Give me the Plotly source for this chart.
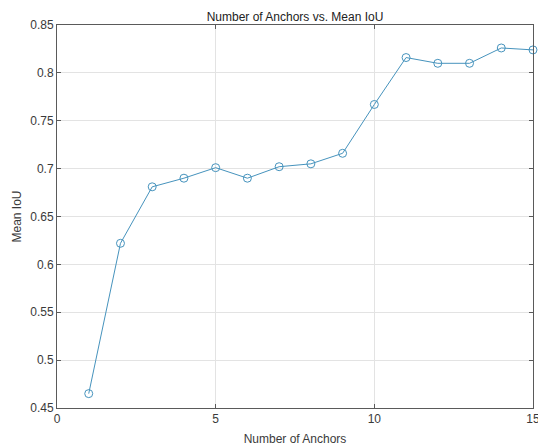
import plotly.graph_objects as go

anchors = list(range(1, 16))
mean_iou = [0.465, 0.622, 0.681, 0.690, 0.701, 0.690, 0.702, 0.705, 0.716,
            0.767, 0.816, 0.810, 0.810, 0.826, 0.824]

x_ticks = [0, 5, 10, 15]
y_ticks = [0.45, 0.5, 0.55, 0.6, 0.65, 0.7, 0.75, 0.8, 0.85]
y_ticklabels = ["0.45", "0.5", "0.55", "0.6", "0.65", "0.7", "0.75", "0.8", "0.85"]

line_color = "#4693bd"
axis_color = "#5a5a5a"
text_color = "#3a3a3a"

fig = go.Figure()
fig.add_trace(go.Scatter(
    x=anchors, y=mean_iou, mode="lines+markers",
    line=dict(color=line_color, width=1),
    marker=dict(symbol="circle-open", size=8, color=line_color, line=dict(width=1, color=line_color)),
    showlegend=False, cliponaxis=False,
))

font = dict(family="Liberation Sans, Arial, sans-serif", size=12, color=text_color)

fig.update_layout(
    width=538, height=446,
    margin=dict(l=57, r=5, t=25, b=38),
    paper_bgcolor="white", plot_bgcolor="white",
    font=font,
    title=dict(text="Number of Anchors vs. Mean IoU", x=0.5, xanchor="center",
               xref="paper", y=1, yref="paper", yanchor="bottom", pad=dict(b=4),
               font=dict(family="Liberation Sans, Arial, sans-serif", size=12, color="#222222")),
)
fig.update_xaxes(
    range=[0, 15], tickvals=x_ticks, ticktext=[str(v) for v in x_ticks],
    showline=True, mirror="ticks", linecolor=axis_color, linewidth=1,
    ticks="inside", ticklen=4, tickcolor=axis_color, ticklabeloverflow="allow",
    automargin=False,
    showgrid=True, gridcolor="#e3e3e3", gridwidth=1, zeroline=False,
    title=dict(text="Number of Anchors", font=font),
)
fig.update_yaxes(
    range=[0.45, 0.85], tickvals=y_ticks, ticktext=y_ticklabels,
    showline=True, mirror="ticks", linecolor=axis_color, linewidth=1,
    ticks="inside", ticklen=4, tickcolor=axis_color,
    showgrid=True, gridcolor="#e3e3e3", gridwidth=1, zeroline=False,
    title=dict(text="Mean IoU", standoff=6, font=font),
)

fig.write_html(
    "out.html",
    config={"displayModeBar": False},
    post_script="document.body.style.margin='0';document.body.style.overflow='hidden';",
)
